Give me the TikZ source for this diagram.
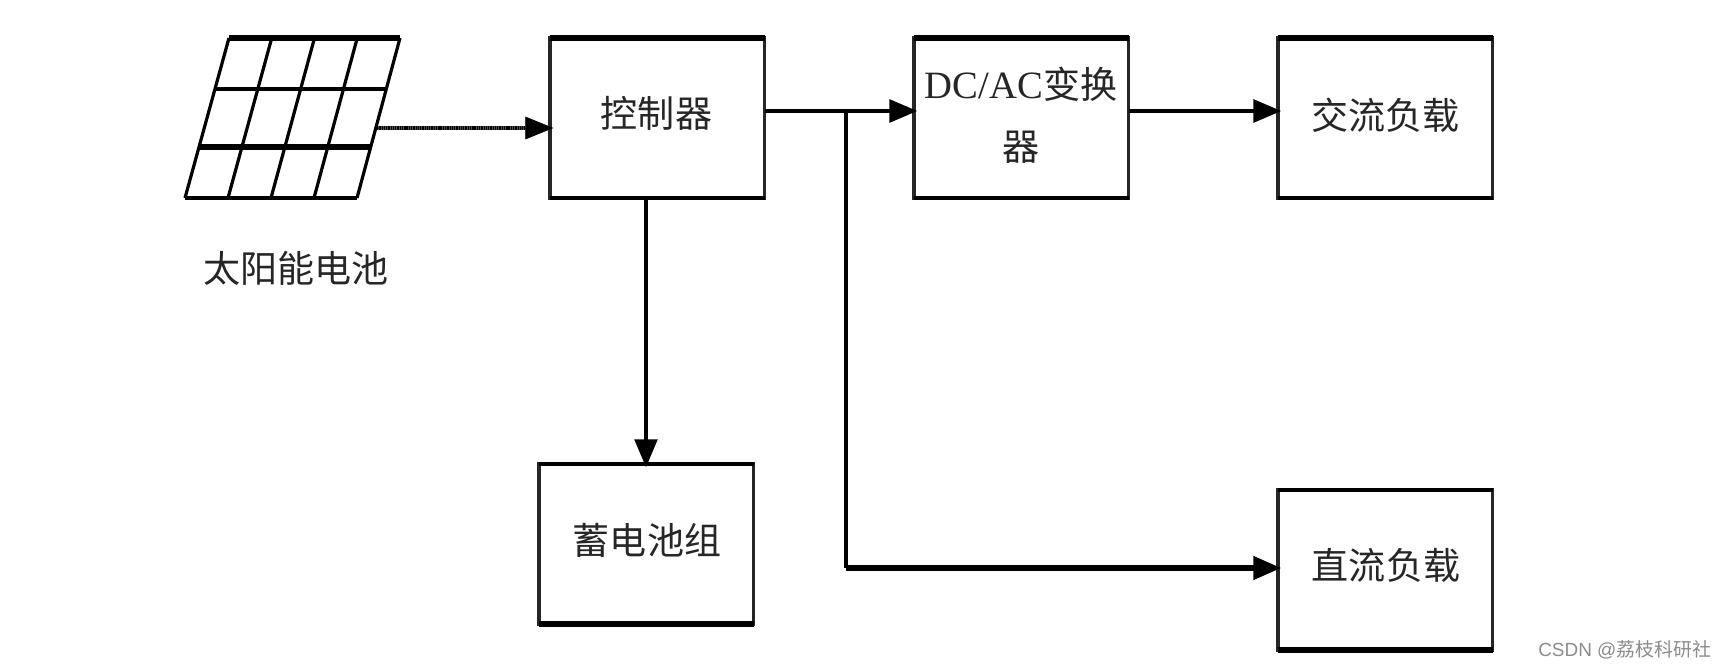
\documentclass[tikz,border=0pt]{standalone}
\usepackage{fontspec}
\usetikzlibrary{arrows.meta,calc}
\setmainfont{Liberation Serif}
\newfontfamily\cjk{Noto Sans CJK SC}
\tikzset{
  x=0.75pt,y=-0.75pt,
  blockbox/.style={draw=black!85,line width=2.6pt,outer sep=0pt,minimum width=161pt,minimum height=120pt,inner sep=0pt,anchor=north west},
  blocktext/.style={inner sep=0pt,align=center,font=\cjk\fontsize{27.8}{46.5}\selectfont,text=black!85},
  tip/.style={-{Triangle[length=21pt,width=17pt]},shorten >=-2.5pt},
  flow/.style={draw=black,line width=3pt,tip},
  flowline/.style={draw=black,line width=2.6pt},
  gridthin/.style={draw=black,line width=2.4pt},
  gridthick/.style={draw=black,line width=4pt},
  heavy/.style={draw=black,line width=3.8pt}
}
\begin{document}
\begin{tikzpicture}
\useasboundingbox (0,0) rectangle (1725,670);
\fill[white] (0,0) rectangle (1725,670);
% solar panel
\coordinate (tl) at (229,38);
\coordinate (tr) at (400,38);
\coordinate (bl) at (185,198);
\coordinate (br) at (357,198);
\draw[gridthin] (tl) -- (bl);
\draw[gridthin] (tr) -- (br);
\draw[gridthin,line width=3.2pt] (bl) -- (br);
\draw[gridthick] (tl) -- (tr);
\foreach \i in {1,2,3}{
  \draw[gridthin] ($(tl)!\i/4!(tr)$) -- ($(bl)!\i/4!(br)$);
}
\draw[gridthin,line width=2.8pt] (216,89) -- (386,89);
\draw[gridthick] (199,147) -- (371,147);
\node[blocktext] (sun) at (296,268) {太阳能电池};
% boxes
\node[blockbox] (ctrl) at (550,38) {};
\node[blockbox] (conv) at (914,38) {};
\node[blockbox] (ac) at (1278,38) {};
\node[blockbox] (bat) at (539,464) {};
\node[blockbox] (dc) at (1278,490) {};
\node[blocktext] (ctrltext) at (656.5,113) {控制器};
\node[blocktext] (convtext) at (1021,115) {{\rmfamily\fontsize{29}{46.5}\selectfont DC/AC}变换\\器};
\node[blocktext] (actext) at (1385.5,115) {交流负载};
\node[blocktext] (battext) at (647,540) {蓄电池组};
\node[blocktext] (dctext) at (1386,565) {直流负载};
\foreach \n in {ctrl,conv,ac}{
  \draw[heavy,line width=4.4pt] (\n.north west) -- (\n.north east);
  \draw[heavy,line width=3.2pt] (\n.south west) -- (\n.south east);
}
\draw[heavy,line width=3.2pt] (bat.north west) -- (bat.north east);
\draw[heavy] (bat.south west) -- (bat.south east);
\draw[heavy,line width=3.2pt] (dc.north west) -- (dc.north east);
\draw[heavy] (dc.south west) -- (dc.south east);
% connectors
\coordinate (pout) at (377,128);
\coordinate (ptip) at (525,128);
\draw[draw=black!70,line width=3.4pt] (pout) -- (ptip);
\draw[draw=black,line width=3.4pt,dash pattern=on 1pt off 0.7pt] (pout) -- (ptip);
\draw[flow,line width=0.4pt] (ptip) -- (ctrl.west |- ptip);
\coordinate (ctrlout) at (ctrl.east |- 0,111);
\coordinate (branch) at (846,111);
\coordinate (branchlow) at (846,568);
\coordinate (ctrldown) at (646,198);
\draw[flow] (ctrlout) -- (conv.west |- ctrlout);
\draw[flow] (conv.east |- ctrlout) -- (ac.west |- ctrlout);
\draw[flow,line width=2.6pt] (ctrldown) -- (bat.north -| ctrldown);
\draw[flowline] (branch) -- (branchlow);
\draw[flow,line width=4.2pt] (branchlow) -- (dc.west |- branchlow);
% watermark
\node[inner sep=0pt,anchor=west,font=\fontspec{Liberation Sans}\fontsize{14.2}{18}\selectfont,text=black!45] (mark) at (1538,650) {CSDN @{\cjk 荔枝科研社}};
\end{tikzpicture}
\end{document}
